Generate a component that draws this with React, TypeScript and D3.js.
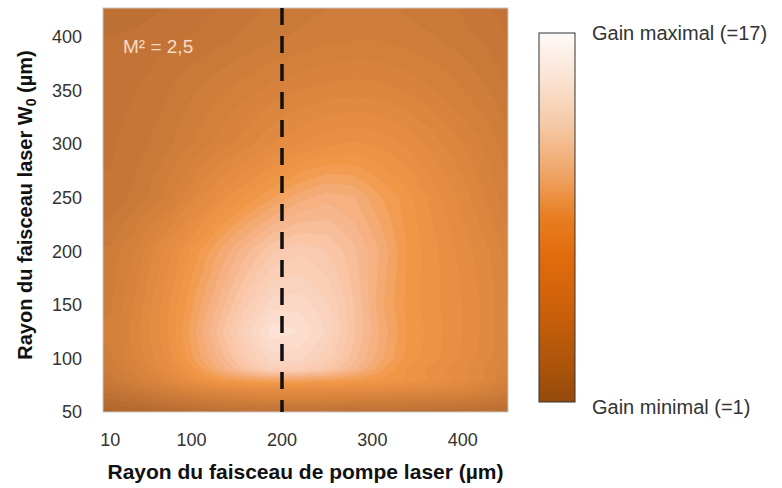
import React, { useEffect, useRef } from 'react'
import * as d3 from 'd3'

// pump beam radius (µm) and laser beam radius W0 (µm) sample positions
const xs = [10, 40, 70, 100, 130, 160, 190, 220, 250, 280, 310, 340, 370, 400, 430, 450]
const ys = [50, 60, 70, 80, 90, 100, 125, 150, 200, 250, 300, 350, 400, 427]

// gain, one row per W0 value
const g50 = [2.8, 3.1, 3.4, 3.8, 4.1, 4.3, 4.4, 4.4, 4.3, 4.2, 4.2, 4.1, 4.1, 4.0, 3.9, 3.7]
const g60 = [3.8, 4.3, 5.0, 5.6, 6.1, 6.4, 6.6, 6.6, 6.5, 6.4, 6.3, 6.2, 6.0, 5.8, 5.4, 5.0]
const g70 = [4.8, 5.6, 6.5, 7.4, 8.0, 8.5, 8.7, 8.7, 8.6, 8.5, 8.4, 8.2, 7.9, 7.5, 6.8, 6.0]
const g80 = [5.8, 6.8, 8.0, 9.4, 10.5, 11.0, 11.3, 11.2, 11.0, 10.7, 10.3, 9.9, 9.4, 8.8, 7.8, 6.9]
const g90 = [6.1, 7.3, 8.6, 10.3, 12.0, 13.6, 14.9, 14.7, 13.9, 12.6, 11.1, 9.9, 9.2, 8.6, 7.8, 7.1]
const g100 = [6.4, 7.7, 9.0, 10.9, 12.6, 14.4, 15.8, 15.6, 14.7, 13.2, 11.6, 10.3, 9.6, 8.9, 8.1, 7.4]
const g125 = [6.6, 7.9, 9.3, 11.2, 13.2, 15.2, 16.8, 16.5, 15.4, 13.6, 11.9, 10.4, 9.7, 9.0, 8.2, 7.5]
const g150 = [6.4, 7.7, 9.2, 10.9, 12.6, 14.4, 15.8, 15.8, 15.1, 13.5, 11.6, 10.3, 9.6, 9.0, 8.2, 7.5]
const g200 = [6.1, 7.2, 8.6, 10.1, 11.5, 12.8, 14.0, 14.4, 14.0, 13.1, 11.9, 10.4, 9.6, 8.8, 8.0, 7.3]
const g250 = [5.1, 5.7, 6.6, 7.9, 9.2, 10.1, 11.0, 11.8, 12.3, 12.0, 11.0, 10.2, 9.2, 8.3, 7.3, 6.6]
const g300 = [4.9, 5.3, 5.8, 6.5, 7.2, 7.8, 8.5, 9.0, 9.4, 9.6, 9.4, 8.9, 8.2, 7.5, 6.8, 6.2]
const g350 = [4.7, 5.0, 5.4, 5.9, 6.4, 6.8, 7.2, 7.5, 7.7, 7.8, 7.7, 7.4, 7.0, 6.5, 6.0, 5.5]
const g400 = [4.5, 4.6, 4.8, 5.0, 5.3, 5.6, 5.9, 6.1, 6.3, 6.4, 6.4, 6.2, 6.0, 5.7, 5.3, 5.0]
const g427 = [4.2, 4.3, 4.5, 4.7, 5.0, 5.3, 5.6, 5.8, 6.0, 6.1, 6.1, 5.9, 5.7, 5.4, 5.0, 4.7]
const gain = [g50, g60, g70, g80, g90, g100, g125, g150, g200, g250, g300, g350, g400, g427]

const xTicks = [10, 100, 200, 300, 400]
const yTicks = [50, 100, 150, 200, 250, 300, 350, 400]
const markerX = 200

const W = 782
const H = 488
const plot = { left: 103, right: 508, top: 8, bottom: 412 }
const font = '"Liberation Sans", Arial, sans-serif'

export default function App() {
  const ref = useRef<SVGSVGElement | null>(null)

  useEffect(() => {
    const svg = d3.select(ref.current)
    svg.selectAll('*').remove()

    const x = d3.scaleLinear().domain([2, 450]).range([plot.left, plot.right])
    const y = d3.scaleLinear().domain([50, 427]).range([plot.bottom, plot.top])

    const heat = d3.scaleLinear<string>()
      .domain([1, 3, 5, 7, 9, 10.5, 12, 14, 16, 17])
      .range(['#9a5223', '#b0672d', '#c47536', '#d5813c', '#e68d42', '#f19848', '#f5ad7c', '#f9c8ab', '#fbdac9', '#fde6da'])
      .clamp(true)

    // bilinear lookup into the read grid
    const locate = (arr: number[], v: number) => {
      const i = Math.max(0, Math.min(arr.length - 2, d3.bisectRight(arr, v) - 1))
      const t = Math.max(0, Math.min(1, (v - arr[i]) / (arr[i + 1] - arr[i])))
      return [i, t]
    }
    const sample = (xv: number, yv: number) => {
      const [i, tx] = locate(xs, xv)
      const [j, ty] = locate(ys, yv)
      const a = gain[j][i] * (1 - tx) + gain[j][i + 1] * tx
      const b = gain[j + 1][i] * (1 - tx) + gain[j + 1][i + 1] * tx
      return a * (1 - ty) + b * ty
    }

    const step = 2
    const pw = plot.right - plot.left
    const ph = plot.bottom - plot.top
    const nx = Math.ceil(pw / step)
    const ny = Math.ceil(ph / step)
    const values = new Array(nx * ny)
    for (let r = 0; r < ny; r++) {
      const yv = y.invert(plot.top + (r + 0.5) * step)
      for (let c = 0; c < nx; c++) {
        values[r * nx + c] = sample(x.invert(plot.left + (c + 0.5) * step), yv)
      }
    }
    const bands = d3.contours().size([nx, ny]).thresholds(d3.range(0.5, 17.5, 0.5))(values)
    const path = d3.geoPath(d3.geoIdentity().scale(step).translate([plot.left, plot.top]) as any)

    const defs = svg.append('defs')
    defs.append('clipPath').attr('id', 'plotclip')
      .append('rect').attr('x', plot.left).attr('y', plot.top).attr('width', pw).attr('height', ph)

    const grad = defs.append('linearGradient').attr('id', 'cbar')
      .attr('x1', 0).attr('y1', 0).attr('x2', 0).attr('y2', 1)
    const stops: [number, string][] = [
      [0, '#fefaf7'], [0.1, '#fbe7da'], [0.25, '#f5c9a6'], [0.4, '#ee9f5c'],
      [0.5, '#e87d22'], [0.6, '#e26c0c'], [0.75, '#cc600b'], [0.88, '#b0560a'], [1, '#954a0c'],
    ]
    stops.forEach(([o, c]) => grad.append('stop').attr('offset', o).attr('stop-color', c))

    svg.append('g').attr('clip-path', 'url(#plotclip)')
      .selectAll('path').data(bands).enter().append('path')
      .attr('d', d => path(d as any))
      .attr('fill', d => heat(d.value + 0.25))

    svg.append('rect').attr('x', plot.left).attr('y', plot.top).attr('width', pw).attr('height', ph)
      .attr('fill', 'none').attr('stroke', '#c8c8c8').attr('stroke-width', 1)

    svg.append('line')
      .attr('x1', x(markerX)).attr('x2', x(markerX))
      .attr('y1', plot.top).attr('y2', plot.bottom)
      .attr('stroke', '#111').attr('stroke-width', 3.5).attr('stroke-dasharray', '17 11')

    svg.append('text').attr('x', 123).attr('y', 53)
      .attr('font-family', font).attr('font-size', 19).attr('fill', '#f6dcc6')
      .text('M² = 2,5')

    // axes (labels only, like the original)
    svg.append('g').selectAll('text').data(yTicks).enter().append('text')
      .attr('x', 82).attr('y', d => y(d)).attr('dy', '0.35em')
      .attr('text-anchor', 'end').attr('font-family', font).attr('font-size', 18).attr('fill', '#333')
      .text(d => d)
    svg.append('g').selectAll('text').data(xTicks).enter().append('text')
      .attr('x', d => x(d)).attr('y', 446)
      .attr('text-anchor', 'middle').attr('font-family', font).attr('font-size', 18).attr('fill', '#333')
      .text(d => d)

    svg.append('text').attr('x', (plot.left + plot.right) / 2).attr('y', 479)
      .attr('text-anchor', 'middle').attr('font-family', font).attr('font-size', 21)
      .attr('font-weight', 'bold').attr('fill', '#111')
      .text('Rayon du faisceau de pompe laser (µm)')

    const yt = svg.append('text').attr('transform', 'translate(32,205) rotate(-90)')
      .attr('text-anchor', 'middle').attr('font-family', font).attr('font-size', 20)
      .attr('font-weight', 'bold').attr('fill', '#111')
    yt.append('tspan').text('Rayon du faisceau laser W')
    yt.append('tspan').attr('font-size', 14).attr('dy', 4).text('0')
    yt.append('tspan').attr('dy', -4).text(' (µm)')

    // colour bar
    svg.append('rect').attr('x', 539).attr('y', 33).attr('width', 36).attr('height', 369)
      .attr('fill', 'url(#cbar)').attr('stroke', '#333').attr('stroke-width', 1)
    svg.append('text').attr('x', 592).attr('y', 40)
      .attr('font-family', font).attr('font-size', 20).attr('fill', '#333')
      .text('Gain maximal (=17)')
    svg.append('text').attr('x', 592).attr('y', 414)
      .attr('font-family', font).attr('font-size', 20).attr('fill', '#333')
      .text('Gain minimal (=1)')
  }, [])

  return (
    <svg ref={ref} width={W} height={H} viewBox={`0 0 ${W} ${H}`}
      style={{ position: 'absolute', left: 0, top: 0, background: '#fff' }} />
  )
}
